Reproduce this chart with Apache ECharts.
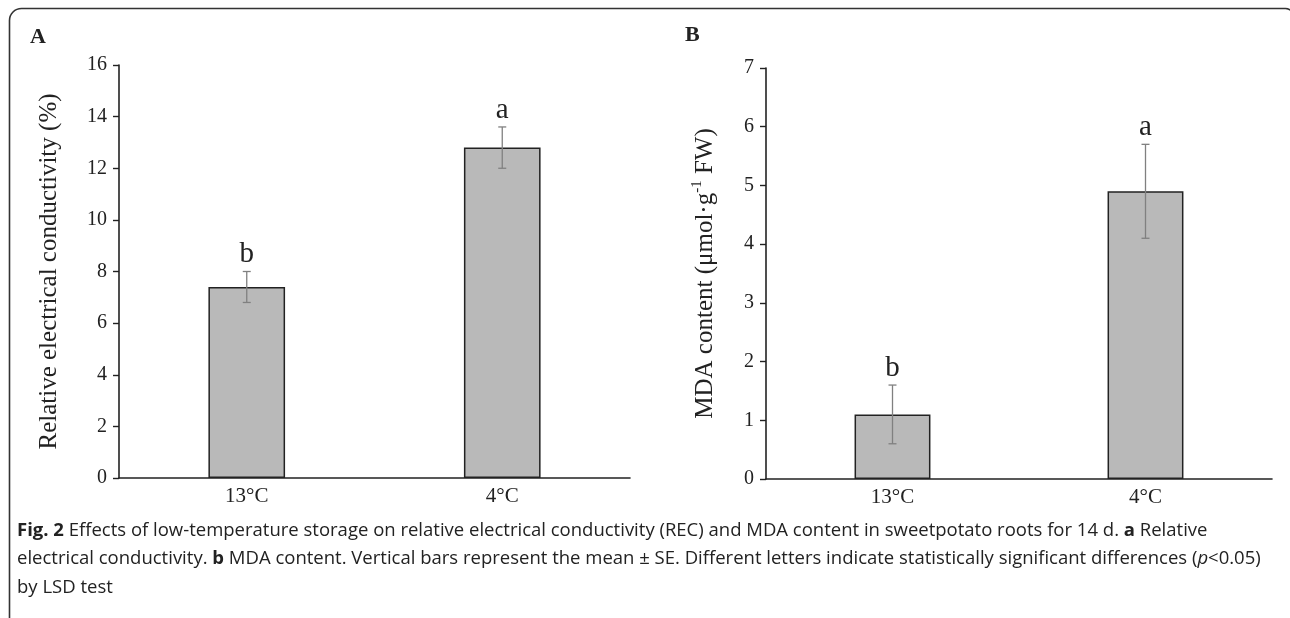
<!DOCTYPE html>
<html>
<head>
<meta charset="utf-8">
<script src="https://cdn.jsdelivr.net/npm/echarts@6/dist/echarts.min.js"></script>
<style>
  html, body { margin: 0; padding: 0; background: #fff; }
  #chart { width: 1290px; height: 618px; }
</style>
</head>
<body>
<div id="chart"></div>
<script>
var categories = ['13°C', '4°C'];
// panel A: relative electrical conductivity (%)
var recMean = [7.4, 12.8];
var recSE = [0.6, 0.8];
var recLetters = ['b', 'a'];
// panel B: MDA content
var mdaMean = [1.1, 4.9];
var mdaSE = [0.5, 0.8];
var mdaLetters = ['b', 'a'];

var serif = '"Liberation Serif", "Times New Roman", serif';
var ink = '#222';

var chart = echarts.init(document.getElementById('chart'));

function errData(mean, se) {
	return mean.map(function (m, i) { return [i, m, se[i]]; });
}

function errRender(letters) {
	return function (params, api) {
		var i = api.value(0), m = api.value(1), s = api.value(2);
		var top = api.coord([i, m + s]);
		var bot = api.coord([i, m - s]);
		var x = top[0], cap = 4;
		var ls = { stroke: '#808080', lineWidth: 1.3 };
		return {
			type: 'group',
			children: [
				{ type: 'line', shape: { x1: x, y1: top[1], x2: x, y2: bot[1] }, style: ls },
				{ type: 'line', shape: { x1: x - cap, y1: top[1], x2: x + cap, y2: top[1] }, style: ls },
				{ type: 'line', shape: { x1: x - cap, y1: bot[1], x2: x + cap, y2: bot[1] }, style: ls },
				{ type: 'text', x: x, y: top[1] - 17, style: {
					text: letters[i], fill: ink, font: '29px ' + serif,
					align: 'center', verticalAlign: 'middle' } }
			]
		};
	};
}

function yAxis(grid, max, interval, name, nameGap, rich) {
	return {
		type: 'value', gridIndex: grid, min: 0, max: max, interval: interval,
		name: name, nameLocation: 'middle', nameGap: nameGap,
		nameTextStyle: { fontFamily: serif, fontSize: 25, color: ink, rich: rich },
		axisLine: { show: true, lineStyle: { color: ink, width: 1.6 } },
		axisTick: { show: true, length: 6, lineStyle: { color: ink, width: 1.4 } },
		axisLabel: { fontFamily: serif, fontSize: 20, color: ink, margin: 12 },
		splitLine: { show: false }
	};
}

function xAxis(grid) {
	return {
		type: 'category', gridIndex: grid, data: categories,
		axisLine: { lineStyle: { color: ink, width: 1.6 } },
		axisTick: { alignWithLabel: true, length: 6, lineStyle: { color: ink, width: 1.4 } },
		axisLabel: { fontFamily: serif, fontSize: 21, color: ink, margin: 8 }
	};
}

function bars(grid, mean) {
	return {
		type: 'bar', xAxisIndex: grid, yAxisIndex: grid, data: mean, barWidth: '30%',
		itemStyle: { color: '#b9b9b9', borderColor: ink, borderWidth: 1.5 },
		silent: true
	};
}

var supRich = {
	n: { fontFamily: serif, fontSize: 25, color: ink, lineHeight: 30 },
	s: { fontFamily: serif, fontSize: 15, color: ink, lineHeight: 30, verticalAlign: 'top', padding: [0, 0, 12, 0] }
};

var capFont = '"Open Sans", "Noto Sans", sans-serif';
var capSize = 18.5;
var capRich = {
	b: { fontFamily: capFont, fontSize: capSize, fontWeight: 'bold', fill: '#222', lineHeight: 28.5 },
	i: { fontFamily: capFont, fontSize: capSize, fontStyle: 'italic', fill: '#222', lineHeight: 28.5 }
};

var capLines = [
	'{b|Fig. 2} Effects of low-temperature storage on relative electrical conductivity (REC) and MDA content in sweetpotato roots for 14 d. {b|a} Relative',
	'electrical conductivity. {b|b} MDA content. Vertical bars represent the mean \u00b1 SE. Different letters indicate statistically significant differences ({i|p}<0.05)',
	'by LSD test'
];

chart.setOption({
	animation: false,
	backgroundColor: '#fff',
	grid: [
		{ left: 119, top: 65, width: 511, height: 413 },
		{ left: 766, top: 68, width: 506, height: 411 }
	],
	xAxis: [xAxis(0), xAxis(1)],
	yAxis: [
		yAxis(0, 16, 2, 'Relative electrical conductivity (%)', 57),
		yAxis(1, 7, 1, '{n|MDA content (\u03bcmol\u00b7g}{s|-1}{n| FW)}', 46, supRich)
	],
	series: [
		bars(0, recMean),
		bars(1, mdaMean),
		{ type: 'custom', xAxisIndex: 0, yAxisIndex: 0, z: 5, silent: true,
		  data: errData(recMean, recSE), renderItem: errRender(recLetters) },
		{ type: 'custom', xAxisIndex: 1, yAxisIndex: 1, z: 5, silent: true,
		  data: errData(mdaMean, mdaSE), renderItem: errRender(mdaLetters) }
	],
	graphic: [
		{ type: 'rect', shape: { x: 9.5, y: 8.5, width: 1284, height: 700, r: [12, 8, 0, 0] },
		  style: { fill: 'none', stroke: '#333', lineWidth: 1.6 }, silent: true },
		{ type: 'text', x: 30, y: 37, style: { text: 'A', font: 'bold 22px ' + serif, fill: ink, verticalAlign: 'middle' } },
		{ type: 'text', x: 685, y: 35, style: { text: 'B', font: 'bold 22px ' + serif, fill: ink, verticalAlign: 'middle' } },
		{ type: 'text', x: 17, y: 516, style: {
			text: capLines.join('\n'), rich: capRich,
			font: capSize + 'px ' + capFont, fill: '#222', lineHeight: 28.5 } }
	]
});
</script>
</body>
</html>
